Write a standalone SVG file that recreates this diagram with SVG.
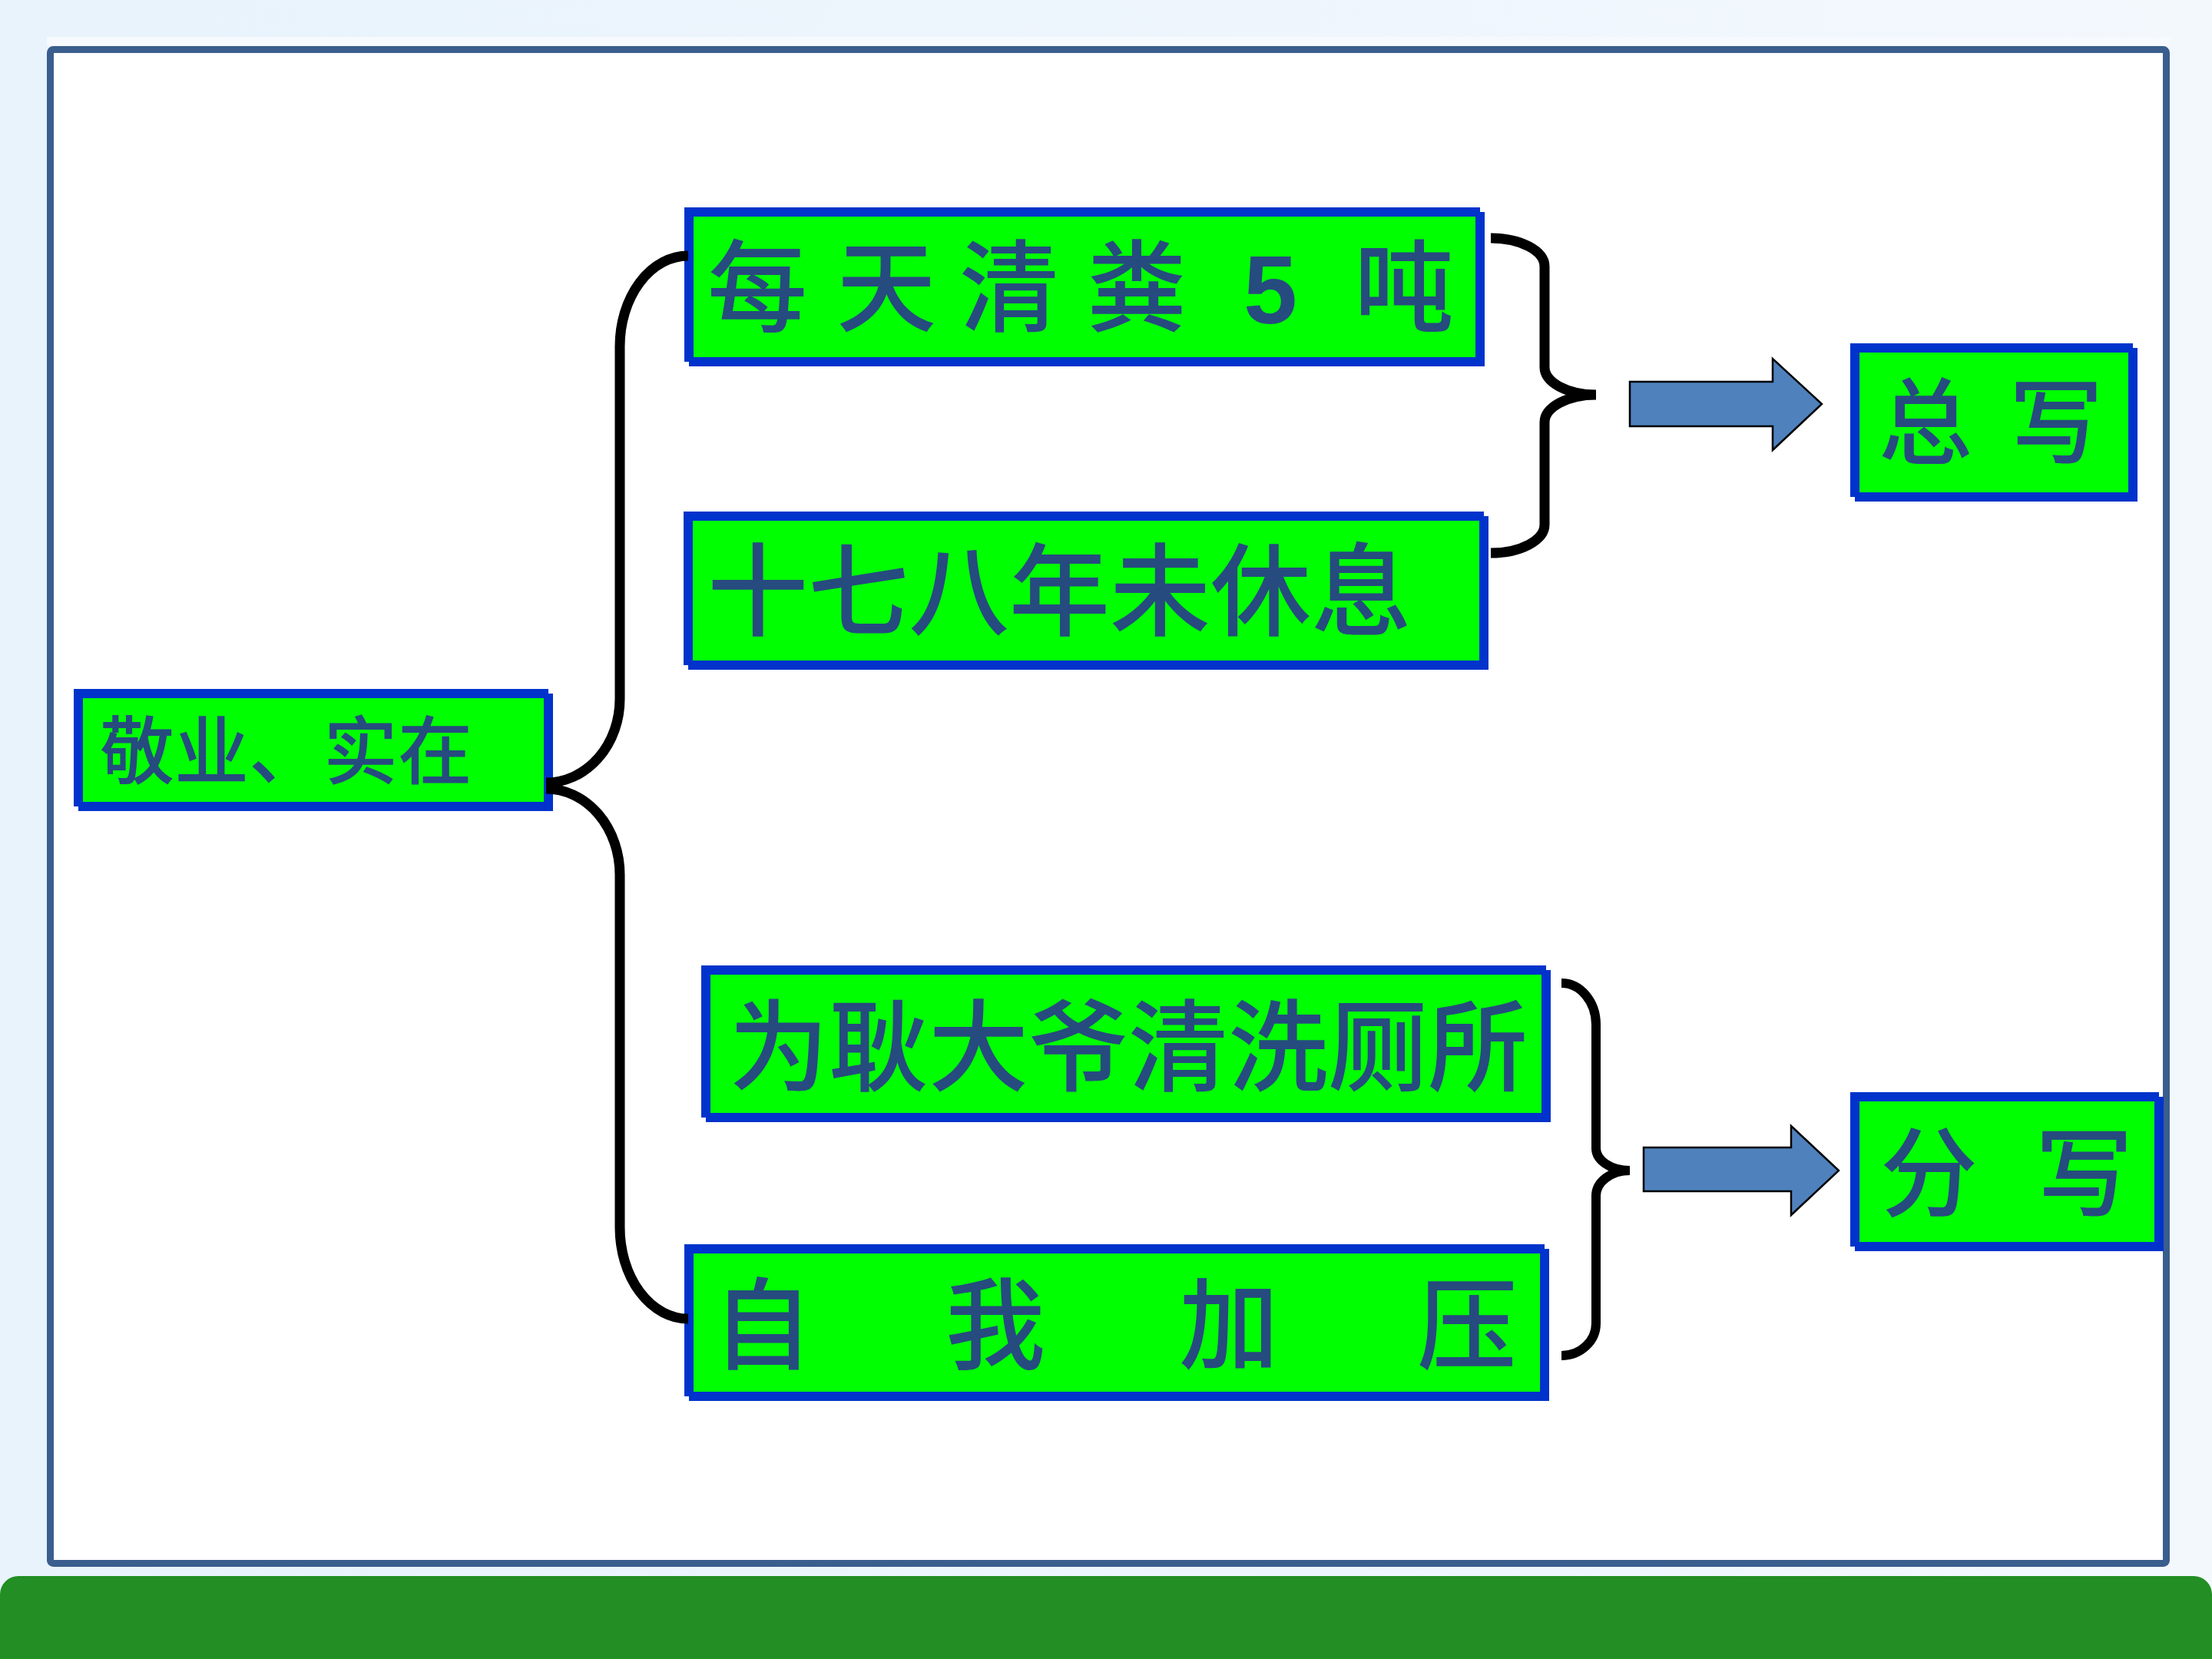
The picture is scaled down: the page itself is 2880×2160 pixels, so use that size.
<svg xmlns="http://www.w3.org/2000/svg" width="2880" height="2160" viewBox="0 0 2880 2160">
<defs>
<linearGradient id="bg" x1="0" y1="0" x2="1" y2="0">
<stop offset="0" stop-color="#E8F3FC"/>
<stop offset="1" stop-color="#F3F8FD"/>
</linearGradient>
<style>
.sh{fill:#0033CC}
.bx{fill:#0033CC}
.gf{fill:#00FF00}
.t{font-family:"Noto Sans CJK SC","Noto Sans CJK TC",sans-serif;font-weight:500;fill:#264B7F}
.n5{font-family:"Liberation Sans",Arial,sans-serif;font-weight:bold;fill:#264B7F}
.br{fill:none;stroke:#000000;stroke-width:13;stroke-linejoin:round}
.ar{fill:#4F81BD;stroke:#000000;stroke-width:2.5;stroke-linejoin:miter}
</style>
</defs>
<rect width="2880" height="2160" fill="url(#bg)"/>
<g id="frame">
<rect x="61" y="48" width="2766" height="12" fill="#F6F9FD"/>
<rect x="65.5" y="64.5" width="2755" height="1971" rx="4" fill="#FFFFFF" stroke="#3A5E8D" stroke-width="9"/>
</g>
<rect id="footer-bar" x="0" y="2052" width="2880" height="140" rx="24" fill="#238E23"/>

<g id="node-jingye">
<rect class="sh" x="102" y="903" width="618" height="153"/>
<rect class="bx" x="96" y="897" width="618" height="153"/>
<rect class="gf" x="108" y="909" width="600" height="135"/>
<text class="t" x="130" y="1013" font-size="97">敬业、实在</text>
</g>

<g id="node-daily">
<rect class="sh" x="897" y="276" width="1036" height="201"/>
<rect class="bx" x="891" y="270" width="1036" height="201"/>
<rect class="gf" x="903" y="282" width="1018" height="183"/>
<text class="t" y="421" font-size="130"><tspan x="921">每</tspan> <tspan x="1089">天</tspan> <tspan x="1249">清</tspan> <tspan x="1415">粪</tspan> <tspan class="n5" x="1619" font-size="126">5</tspan> <tspan x="1763">吨</tspan></text>
</g>

<g id="node-years">
<rect class="sh" x="896" y="672" width="1042" height="200"/>
<rect class="bx" x="890" y="666" width="1042" height="200"/>
<rect class="gf" x="902" y="678" width="1024" height="182"/>
<text class="t" x="921" y="817" font-size="131">十七八年未休息</text>
</g>

<g id="node-toilet">
<rect class="sh" x="919" y="1263" width="1100" height="198"/>
<rect class="bx" x="913" y="1257" width="1100" height="198"/>
<rect class="gf" x="925" y="1269" width="1082" height="180"/>
<text class="t" x="949" y="1410" font-size="130">为耿大爷清洗厕所</text>
</g>

<g id="node-pressure">
<rect class="sh" x="897" y="1626" width="1120" height="198"/>
<rect class="bx" x="891" y="1620" width="1120" height="198"/>
<rect class="gf" x="903" y="1632" width="1102" height="180"/>
<text class="t" y="1772" font-size="130"><tspan x="928">自</tspan> <tspan x="1231">我</tspan> <tspan x="1535">加</tspan> <tspan x="1845">压</tspan></text>
</g>

<g id="node-zongxie">
<rect class="sh" x="2415" y="453" width="368" height="200"/>
<rect class="bx" x="2409" y="447" width="368" height="200"/>
<rect class="gf" x="2421" y="459" width="350" height="182"/>
<text class="t" y="594" font-size="122"><tspan x="2446">总</tspan> <tspan x="2616">写</tspan></text>
</g>

<g id="node-fenxie">
<rect class="sh" x="2415" y="1428" width="402" height="201"/>
<rect class="bx" x="2409" y="1422" width="402" height="201"/>
<rect class="gf" x="2421" y="1434" width="384" height="183"/>
<text class="t" y="1574" font-size="127"><tspan x="2448">分</tspan> <tspan x="2650">写</tspan></text>
</g>

<g id="connectors">
<path class="br" d="M896,333 A89,118 0 0 0 807,451 L807,910 A96,109 0 0 1 711,1019"/>
<path class="br" d="M711,1027 A96,112 0 0 1 807,1139 L807,1598 A89,119 0 0 0 896,1717"/>
<path class="br" d="M1941,310 A70,37 0 0 1 2011,347 L2011,478 A67,36 0 0 0 2078,514 M2078,514 A67,36 0 0 0 2011,550 L2011,683 A70,37 0 0 1 1941,720"/>
<path class="br" style="stroke-width:12" d="M2033,1280 A45,54 0 0 1 2078,1334 L2078,1495 A44,29 0 0 0 2122,1524 M2122,1524 A44,33 0 0 0 2078,1557 L2078,1723 A45,42 0 0 1 2033,1765"/>
<path class="ar" d="M2122,497 L2308,497 L2308,467 L2372,526 L2308,586 L2308,555 L2122,555 Z"/>
<path class="ar" d="M2140,1494 L2332,1494 L2332,1466 L2394,1524 L2332,1582 L2332,1551 L2140,1551 Z"/>
</g>
</svg>
